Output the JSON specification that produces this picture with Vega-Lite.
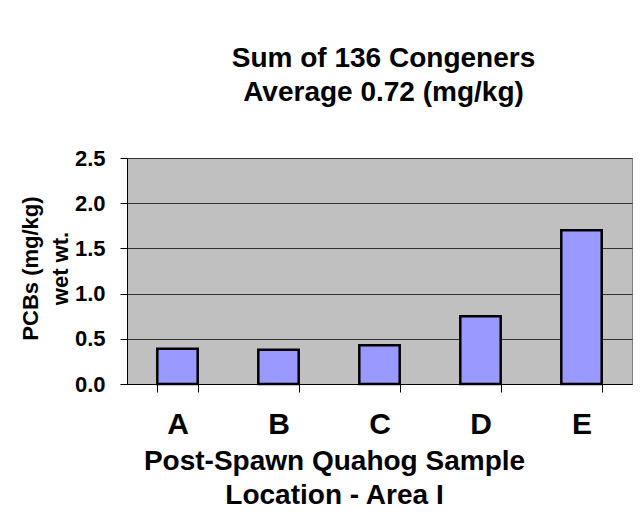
{
  "$schema": "https://vega.github.io/schema/vega-lite/v6.json",
  "autosize": "none",
  "width": 505,
  "height": 226,
  "padding": {"left": 127, "top": 158, "right": 12, "bottom": 137},
  "background": "white",
  "config": {
    "font": "Liberation Sans",
    "view": {"fill": "#C0C0C0", "stroke": "#808080", "strokeWidth": 1}
  },
  "title": {
    "text": ["Sum of 136 Congeners", "Average 0.72 (mg/kg)"],
    "font": "Liberation Sans",
    "fontSize": 28,
    "fontWeight": "bold",
    "color": "black",
    "lineHeight": 34,
    "anchor": "middle",
    "dx": 4,
    "offset": 40
  },
  "data": {
    "values": [
      {"location": "A", "pcb": 0.39},
      {"location": "B", "pcb": 0.38},
      {"location": "C", "pcb": 0.43},
      {"location": "D", "pcb": 0.75},
      {"location": "E", "pcb": 1.70}
    ]
  },
  "mark": {"type": "bar", "fill": "#9999FF", "stroke": "black", "strokeWidth": 2.5},
  "encoding": {
    "x": {
      "field": "location",
      "type": "nominal",
      "scale": {"paddingInner": 0.6, "paddingOuter": 0.3},
      "axis": {
        "title": ["Post-Spawn Quahog Sample", "Location - Area I"],
        "titleFontSize": 28,
        "titleFontWeight": "bold",
        "titleColor": "black",
        "titleLineHeight": 34,
        "titleX": 207,
        "titlePadding": 8,
        "labelAngle": 0,
        "labelFontSize": 30,
        "labelFontWeight": "bold",
        "labelColor": "black",
        "labelPadding": 17,
        "tickBand": "extent",
        "tickSize": 8,
        "tickColor": "black",
        "domainColor": "black",
        "grid": false
      }
    },
    "y": {
      "field": "pcb",
      "type": "quantitative",
      "scale": {"domain": [0, 2.5], "nice": false},
      "axis": {
        "title": ["PCBs (mg/kg)", "wet wt."],
        "titleFontSize": 22,
        "titleFontWeight": "bold",
        "titleColor": "black",
        "titleLineHeight": 30,
        "titlePadding": 2,
        "titleY": 110,
        "values": [0, 0.5, 1, 1.5, 2, 2.5],
        "format": ".1f",
        "labelFontSize": 22,
        "labelFontWeight": "bold",
        "labelColor": "black",
        "labelPadding": 15,
        "tickSize": 7,
        "tickColor": "black",
        "domainColor": "black",
        "grid": true,
        "gridColor": "#333333",
        "gridOpacity": 1
      }
    }
  }
}
